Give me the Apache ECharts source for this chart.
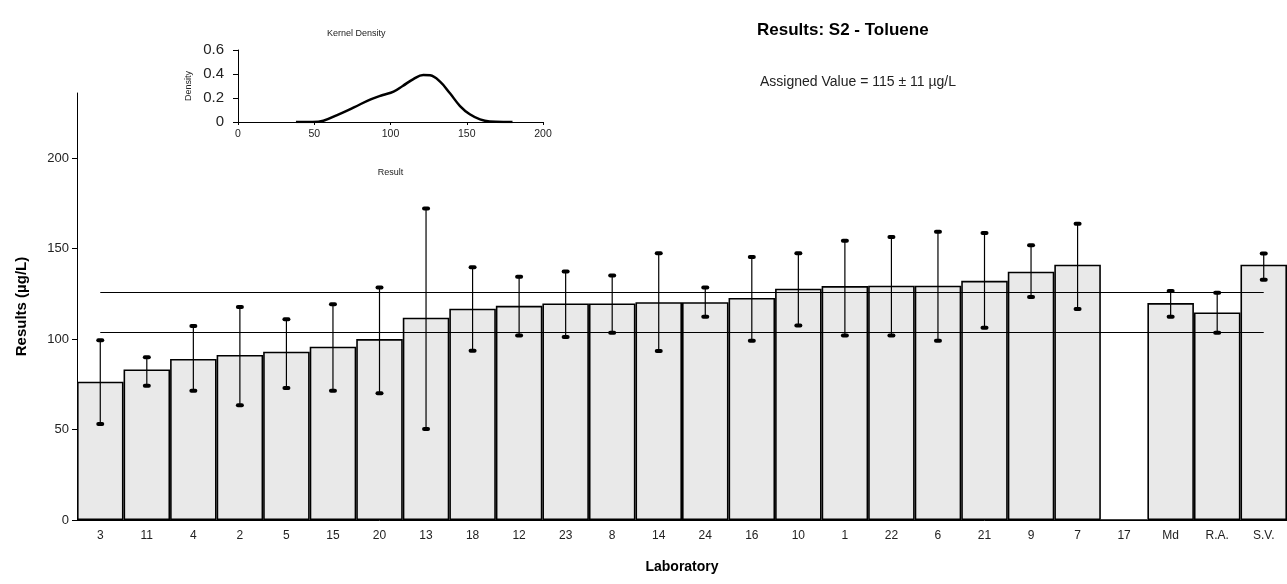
<!DOCTYPE html>
<html>
<head>
<meta charset="utf-8">
<script src="https://cdn.jsdelivr.net/npm/echarts@6/dist/echarts.min.js"></script>
<style>
html,body{margin:0;padding:0;background:#fff;}
#c{width:1287px;height:584px;}
</style>
</head>
<body>
<div id="c"></div>
<script>
// ---- data ----
const labs = ['3','11','4','2','5','15','20','13','18','12','23','8','14','24','16','10','1','22','6','21','9','7','17','Md','R.A.','S.V.'];
const results = [76.4,83.2,89.0,91.2,93.0,95.8,100.0,111.8,116.8,118.4,119.7,119.7,120.4,120.4,122.7,127.8,129.3,129.5,129.5,132.2,137.2,141.1,0,119.9,114.7,141.1];
const errLow  = [53.0,74.2,71.5,63.4,72.9,71.5,70.0,50.3,93.5,102.0,101.1,103.5,93.4,112.3,99.1,107.5,102.0,102.0,99.1,106.3,123.2,116.6,null,112.3,103.5,132.8];
const errHigh = [99.4,89.9,107.2,117.7,111.0,119.3,128.5,172.2,139.7,134.4,137.4,135.2,147.5,128.5,145.3,147.5,154.3,156.4,159.3,158.6,151.8,163.7,null,126.5,125.6,147.3];
const assignedValue = 115;
const assignedUnc = 11;
const yTicks = [0,50,100,150,200];
// kernel density curve (result, density)
const kdX = [38,49,56,65,76,87,95,102,108,115,121.5,126,132.5,139,145.6,152,158.7,165,174,180];
const kdY = [0,0,0.011,0.058,0.122,0.189,0.225,0.253,0.3,0.358,0.392,0.389,0.336,0.239,0.133,0.064,0.022,0.004,0,0];

const font = 'Liberation Sans, Arial, sans-serif';
const chart = echarts.init(document.getElementById('c'));

const errData = [];
labs.forEach((l,i)=>{ if(errLow[i]!=null) errData.push([i, errLow[i], errHigh[i]]); });
const kdData = kdX.map((x,i)=>[x, kdY[i]]);
const upper = assignedValue + assignedUnc, lower = assignedValue - assignedUnc;

chart.setOption({
  animation:false,
  backgroundColor:'#fff',
  textStyle:{fontFamily:font},
  title:[
    {text:'Results: S2 - Toluene', left:752, top:17, textStyle:{fontFamily:font,fontSize:17,fontWeight:'bold',color:'#000'}},
    {text:'Assigned Value = 115 ± 11 µg/L', left:755, top:70, textStyle:{fontFamily:font,fontSize:14,fontWeight:'normal',color:'#222'}},
    {text:'Kernel Density', left:322, top:24, textStyle:{fontFamily:font,fontSize:9,fontWeight:'normal',color:'#222'}}
  ],
  grid:[
    {left:77, top:93, width:1217, height:427},
    {left:238, top:50, width:305, height:72}
  ],
  xAxis:[
    {type:'category', gridIndex:0, data:labs,
     axisLine:{lineStyle:{color:'#000',width:1}},
     axisTick:{length:5,lineStyle:{color:'#000'}},
     axisLabel:{color:'#222',fontSize:12,margin:10,interval:0,fontFamily:font},
     name:'Laboratory', nameLocation:'middle', nameGap:40,
     nameTextStyle:{fontFamily:font,fontSize:14,fontWeight:'bold',color:'#000'}},
    {type:'value', gridIndex:1, min:0, max:200, interval:50,
     splitLine:{show:false},
     axisLine:{show:true,onZero:false,lineStyle:{color:'#000',width:1}},
     axisTick:{show:true,length:3,lineStyle:{color:'#000'}},
     axisLabel:{color:'#222',fontSize:10.5,margin:7,fontFamily:font},
     name:'Result', nameLocation:'middle', nameGap:46,
     nameTextStyle:{fontFamily:font,fontSize:9,color:'#222'}}
  ],
  yAxis:[
    {type:'value', gridIndex:0, min:0, max:236,
     splitLine:{show:false},
     axisLine:{show:true,lineStyle:{color:'#000',width:1}},
     axisTick:{show:true,length:5,customValues:yTicks,lineStyle:{color:'#000'}},
     axisLabel:{customValues:yTicks,color:'#222',fontSize:13,margin:8,fontFamily:font},
     name:'Results (µg/L)', nameLocation:'middle', nameGap:48,
     nameTextStyle:{fontFamily:font,fontSize:15,fontWeight:'bold',color:'#000'}},
    {type:'value', gridIndex:1, min:0, max:0.6, interval:0.2,
     splitLine:{show:false},
     axisLine:{show:true,lineStyle:{color:'#000',width:1}},
     axisTick:{show:true,length:5,lineStyle:{color:'#000'}},
     axisLabel:{color:'#222',fontSize:15,margin:14,fontFamily:font},
     name:'Density', nameLocation:'middle', nameGap:45,
     nameTextStyle:{fontFamily:font,fontSize:9,color:'#222'}}
  ],
  series:[
    {type:'bar', xAxisIndex:0, yAxisIndex:0, data:results, barCategoryGap:'0%',
     itemStyle:{color:'#e9e9e9', borderColor:'#000', borderWidth:1.6},
     markLine:{symbol:'none', silent:true, label:{show:false},
       lineStyle:{color:'#000',width:1.2,type:'solid'},
       data:[
         [{coord:[labs[0],upper]},{coord:[labs[labs.length-1],upper]}],
         [{coord:[labs[0],lower]},{coord:[labs[labs.length-1],lower]}]
       ]}
    },
    {type:'custom', xAxisIndex:0, yAxisIndex:0, data:errData, z:5,
     renderItem:function(params, api){
       const x = api.value(0);
       const pHi = api.coord([x, api.value(2)]);
       const pLo = api.coord([x, api.value(1)]);
       const w = 8;
       return {type:'group', children:[
         {type:'line', shape:{x1:pHi[0],y1:pHi[1],x2:pLo[0],y2:pLo[1]}, style:{stroke:'#000',lineWidth:1.2}},
         {type:'rect', shape:{x:pHi[0]-w/2,y:pHi[1]-2,width:w,height:4,r:2}, style:{fill:'#000'}},
         {type:'rect', shape:{x:pLo[0]-w/2,y:pLo[1]-2,width:w,height:4,r:2}, style:{fill:'#000'}}
       ]};
     }
    },
    {type:'line', xAxisIndex:1, yAxisIndex:1, data:kdData, smooth:0.4, showSymbol:false,
     lineStyle:{color:'#000',width:2.5}}
  ]
});
</script>
</body>
</html>
